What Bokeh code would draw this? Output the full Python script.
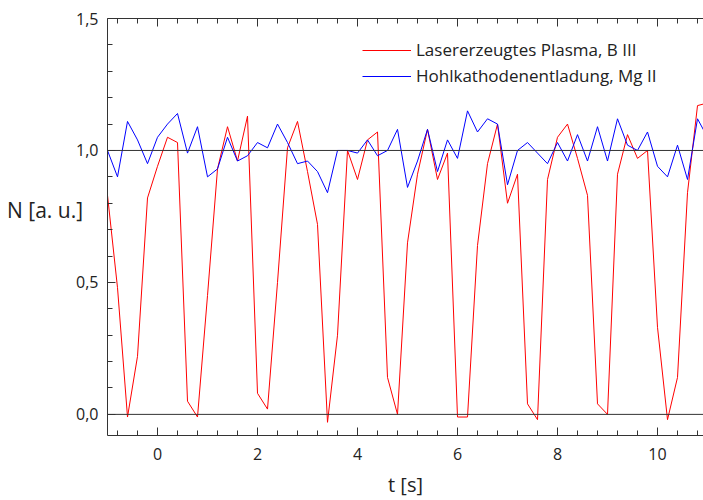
from bokeh.plotting import figure
from bokeh.models import (LinearAxis, FixedTicker, Span, Legend, LegendItem,
                          CustomJSTickFormatter, Range1d)
from bokeh.embed import file_html
from bokeh.resources import INLINE

# ---------------- data ----------------
t = [-1.0, -0.8, -0.6, -0.4, -0.2, 0.0, 0.2, 0.4, 0.6, 0.8,
     1.0, 1.2, 1.4, 1.6, 1.8, 2.0, 2.2, 2.4, 2.6, 2.8,
     3.0, 3.2, 3.4, 3.6, 3.8, 4.0, 4.2, 4.4, 4.6, 4.8,
     5.0, 5.2, 5.4, 5.6, 5.8, 6.0, 6.2, 6.4, 6.6, 6.8,
     7.0, 7.2, 7.4, 7.6, 7.8, 8.0, 8.2, 8.4, 8.6, 8.8,
     9.0, 9.2, 9.4, 9.6, 9.8, 10.0, 10.2, 10.4, 10.6, 10.8, 11.0]

laser_plasma_b3 = [0.83, 0.48, -0.01, 0.22, 0.82, 0.94, 1.05, 1.03, 0.05, -0.01,
                   0.45, 0.93, 1.09, 0.96, 1.13, 0.08, 0.02, 0.50, 1.01, 1.11,
                   0.92, 0.72, -0.03, 0.30, 1.00, 0.89, 1.04, 1.07, 0.14, 0.00,
                   0.65, 0.91, 1.08, 0.89, 0.99, -0.01, -0.01, 0.64, 0.95, 1.10,
                   0.80, 0.91, 0.04, -0.02, 0.89, 1.05, 1.10, 0.97, 0.83, 0.04,
                   0.00, 0.91, 1.06, 0.97, 1.00, 0.33, -0.02, 0.14, 0.84, 1.17, 1.18]

hollow_cathode_mg2 = [1.00, 0.90, 1.11, 1.04, 0.95, 1.05, 1.10, 1.14, 0.99, 1.09,
                      0.90, 0.93, 1.05, 0.96, 0.98, 1.03, 1.01, 1.10, 1.03, 0.95,
                      0.96, 0.92, 0.84, 1.00, 1.00, 0.99, 1.04, 0.98, 1.00, 1.08,
                      0.86, 0.96, 1.08, 0.92, 1.04, 0.97, 1.15, 1.07, 1.12, 1.10,
                      0.87, 1.00, 1.03, 0.99, 0.95, 1.03, 0.96, 1.06, 0.96, 1.09,
                      0.96, 1.12, 1.02, 1.00, 1.07, 0.94, 0.90, 1.02, 0.89, 1.12, 1.05]

series_labels = ["Lasererzeugtes Plasma, B III", "Hohlkathodenentladung, Mg II"]

x_major = [0, 2, 4, 6, 8, 10]
x_minor = [-0.8, -0.4, 0.4, 0.8, 1.2, 1.6, 2.4, 2.8, 3.2, 3.6, 4.4, 4.8, 5.2, 5.6,
           6.4, 6.8, 7.2, 7.6, 8.4, 8.8, 9.2, 9.6, 10.4, 10.8]
y_major = [0.0, 0.5, 1.0, 1.5]
y_minor = [0.1, 0.2, 0.3, 0.4, 0.6, 0.7, 0.8, 0.9, 1.1, 1.2, 1.3, 1.4]
ref_levels = [0.0, 1.0]

# ---------------- figure ----------------
FONT = "Open Sans"
TXT = "#222222"
AX = "#333333"

p = figure(width=703, height=500, output_backend="svg", toolbar_location=None,
           x_range=Range1d(-1.0, 10.92), y_range=Range1d(-0.08, 1.5),
           x_axis_type=None, y_axis_type=None,
           min_border_left=107, min_border_right=0, min_border_top=18,
           min_border_bottom=65)
p.outline_line_color = None
p.background_fill_color = "white"
p.border_fill_color = "white"


def style_axis(ax, ticks, minor, labels=True):
    ax.ticker = FixedTicker(ticks=ticks, minor_ticks=minor)
    ax.axis_line_color = AX
    ax.axis_line_width = 1
    ax.major_tick_line_color = AX
    ax.minor_tick_line_color = AX
    ax.major_tick_in = 8
    ax.major_tick_out = 0
    ax.minor_tick_in = 5
    ax.minor_tick_out = 0
    ax.major_label_text_font = FONT
    ax.major_label_text_font_size = "16px"
    ax.major_label_text_color = TXT
    ax.axis_label_text_font = FONT
    ax.axis_label_text_font_style = "normal"
    ax.axis_label_text_color = TXT
    if not labels:
        ax.major_label_text_color = None
        ax.major_label_standoff = 0


xb = LinearAxis()
style_axis(xb, x_major, x_minor)
xb.major_label_standoff = 12
xb.axis_label = "t [s]"
xb.axis_label_text_font_size = "20px"
xb.axis_label_standoff = 8
p.add_layout(xb, "below")

xt = LinearAxis()
style_axis(xt, x_major, x_minor, labels=False)
p.add_layout(xt, "above")

yl = LinearAxis()
style_axis(yl, y_major, y_minor)
yl.formatter = CustomJSTickFormatter(code="return tick.toFixed(1).replace('.', ',');")
yl.major_label_standoff = 9
yl.axis_label = "N [a. u.]\n"
yl.axis_label_orientation = "horizontal"
yl.axis_label_text_font_size = "21px"
yl.axis_label_standoff = -10
p.add_layout(yl, "left")

for lv in ref_levels:
    p.add_layout(Span(location=lv, dimension="width", line_color=AX, line_width=1))

r_red = p.line(t, laser_plasma_b3, line_color="#ff0000", line_width=1)
r_blue = p.line(t, hollow_cathode_mg2, line_color="#0000ff", line_width=1)

legend = Legend(items=[LegendItem(label=series_labels[0], renderers=[r_red]),
                       LegendItem(label=series_labels[1], renderers=[r_blue])],
                location=(255, 348), orientation="vertical",
                border_line_color=None, background_fill_alpha=0,
                padding=0, margin=0, spacing=3,
                glyph_width=49, glyph_height=20, label_height=20,
                label_standoff=5, label_text_font=FONT,
                label_text_font_size="17px", label_text_color=TXT)
p.add_layout(legend)

open("out.html", "w").write(file_html(p, INLINE))
